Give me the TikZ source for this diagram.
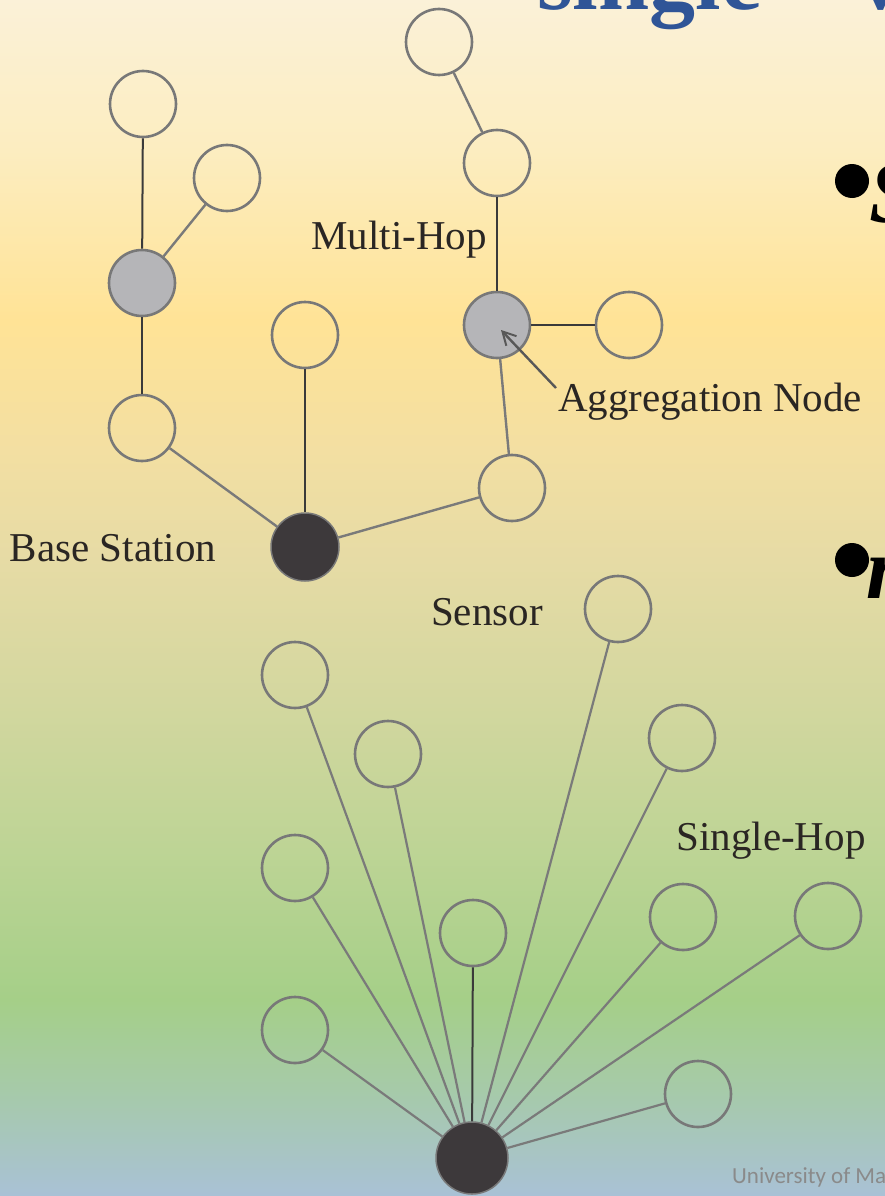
\documentclass[tikz,border=0pt]{standalone}
\usepackage{fontspec}
\setmainfont{Liberation Serif}
\newfontfamily\uifont{Carlito}
\usetikzlibrary{arrows.meta,calc}

% background bands, top to bottom
\definecolor{bgA}{HTML}{FBF1D8}
\definecolor{bgB}{HTML}{FCEDC0}
\definecolor{bgC}{HTML}{FFE396}
\definecolor{bgD}{HTML}{F3DFA2}
\definecolor{bgE}{HTML}{E6DBA5}
\definecolor{bgF}{HTML}{D3D79F}
\definecolor{bgG}{HTML}{BDD495}
\definecolor{bgH}{HTML}{A5CF88}
\definecolor{bgI}{HTML}{A6CAA9}
\definecolor{bgJ}{HTML}{A9C1D6}
% drawing colours
\definecolor{ringgrey}{HTML}{787878}
\definecolor{agggrey}{HTML}{B5B5B8}
\definecolor{basedark}{HTML}{3D393B}
\definecolor{linkdark}{HTML}{3A3A3A}
\definecolor{linkgrey}{HTML}{7A7A7A}
\definecolor{labelink}{HTML}{2A2623}
\definecolor{titleblue}{HTML}{2F5597}
\definecolor{footgrey}{HTML}{8A8A8A}

\tikzset{
  sensor/.style={circle, draw=ringgrey, line width=2.6pt, minimum size=66pt, inner sep=0pt},
  aggnode/.style={sensor, fill=agggrey},
  basenode/.style={circle, draw=ringgrey, fill=basedark, line width=1.5pt, minimum size=68pt, inner sep=0pt},
  darklink/.style={draw=linkdark, line width=2pt},
  greylink/.style={draw=linkgrey, line width=2.4pt},
  lbl/.style={text=labelink, font=\fontsize{41}{41}\selectfont, inner sep=0pt},
  headline/.style={text=titleblue, font=\fontsize{92}{92}\selectfont\bfseries, inner sep=0pt, anchor=base west},
  bulletword/.style={text=black, font=\fontsize{88}{88}\selectfont\bfseries\itshape, inner sep=0pt, anchor=base west},
  bulletdot/.style={circle, fill=black, minimum size=34pt, inner sep=0pt},
}

\begin{document}
\begin{tikzpicture}[x=1pt,y=-1pt]
\useasboundingbox (0,0) rectangle (885,1196);
\clip (0,0) rectangle (885,1196);

% slide background
\shade[top color=bgA, bottom color=bgB] (0,-1) rectangle (885,150.5);
\shade[top color=bgB, bottom color=bgC] (0,150) rectangle (885,320.5);
\shade[top color=bgC, bottom color=bgD] (0,320) rectangle (885,450.5);
\shade[top color=bgD, bottom color=bgE] (0,450) rectangle (885,560.5);
\shade[top color=bgE, bottom color=bgF] (0,560) rectangle (885,700.5);
\shade[top color=bgF, bottom color=bgG] (0,700) rectangle (885,850.5);
\shade[top color=bgG, bottom color=bgH] (0,850) rectangle (885,1000.5);
\shade[top color=bgH, bottom color=bgI] (0,1000) rectangle (885,1090.5);
\shade[top color=bgI, bottom color=bgJ] (0,1090) rectangle (885,1197);

% slide heading and bullets, cut by the slide edge
\node[headline] (titleA) at (537,10) {single};
\node[headline] (titleB) at (857,10) {vs};
\node[bulletdot] (dotA) at (852,181) {};
\node[bulletword] (wordA) at (869,222) {S};
\node[bulletdot] (dotB) at (852,560) {};
\node[bulletword] (wordB) at (866,598) {m};

% multi-hop tree
\node[sensor]   (A1) at (143,104) {};
\node[sensor]   (A2) at (227,178) {};
\node[aggnode]  (A3) at (142,283) {};
\node[sensor]   (A4) at (142,428) {};
\node[sensor]   (B1) at (305,335) {};
\node[basenode] (BS1) at (305,547) {};
\node[sensor]   (C1) at (439,42) {};
\node[sensor]   (C2) at (497,163) {};
\node[aggnode]  (C3) at (497,325) {};
\node[sensor]   (C4) at (629,325) {};
\node[sensor]   (C5) at (512,488) {};

\draw[darklink] (A1) -- (A3);
\draw[greylink] (A2) -- (A3);
\draw[darklink] (A3) -- (A4);
\draw[greylink] (A4) -- (BS1);
\draw[darklink] (B1) -- (BS1);
\draw[greylink] (BS1) -- (C5);
\draw[greylink] (C5) -- (C3);
\draw[darklink] (C3) -- (C4);
\draw[darklink] (C3) -- (C2);
\draw[greylink] (C2) -- (C1);

% pointer to the aggregation node
\coordinate (agtail) at (556,388);
\coordinate (agtip) at (501,330);
\draw[draw=linkdark!85!white, line width=2.4pt, -{Straight Barb[length=13pt,width=14pt,line width=2pt]}] (agtail) -- (agtip);

% single-hop star
\node[basenode, minimum size=72pt] (BS2) at (472,1158) {};
\node[sensor] (S1) at (618,609) {};
\node[sensor] (S2) at (295,675) {};
\node[sensor] (S3) at (388,754) {};
\node[sensor] (S4) at (682,738) {};
\node[sensor] (S5) at (295,868) {};
\node[sensor] (S6) at (473,933) {};
\node[sensor] (S7) at (683,917) {};
\node[sensor] (S8) at (828,916) {};
\node[sensor] (S9) at (295,1030) {};
\node[sensor] (S10) at (698,1094) {};

\foreach \s in {S1,S2,S3,S4,S5,S7,S8,S9,S10}
  \draw[greylink, line width=2.2pt] (\s) -- (BS2);
\draw[darklink] (S6) -- (BS2);

% labels
\node[lbl] (lmulti) at (399,240) {Multi-Hop};
\node[lbl] (lagg) at (710,402) {Aggregation Node};
\node[lbl] (lbase) at (113,548) {Base Station};
\node[lbl] (lsensor) at (487,612) {Sensor};
\node[lbl] (lsingle) at (771,841) {Single-Hop};

% footer
\node[text=footgrey, font=\uifont\fontsize{23}{23}\selectfont, inner sep=0pt, anchor=base west] (foot) at (732,1183) {University of Ma};
\end{tikzpicture}
\end{document}
